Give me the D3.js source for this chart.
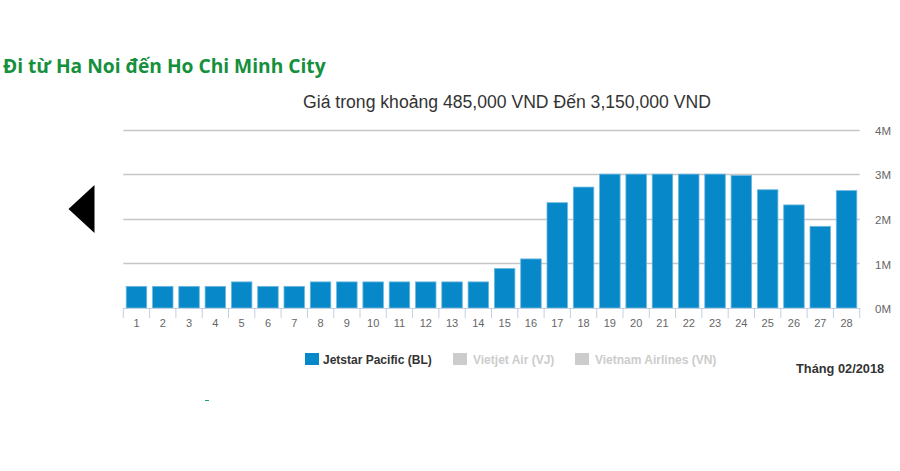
<!DOCTYPE html>
<html><head><meta charset="utf-8">
<script src="https://cdn.jsdelivr.net/npm/d3@7"></script>
<style>body{margin:0;background:#fff;} svg{display:block;font-family:"Liberation Sans",Arial,sans-serif;}</style>
</head><body>
<svg id="c" width="900" height="471"></svg>
<script>
const days = ["1","2","3","4","5","6","7","8","9","10","11","12","13","14","15","16","17","18","19","20","21","22","23","24","25","26","27","28"];
const prices = [485000,485000,485000,485000,585000,485000,485000,585000,585000,585000,585000,585000,585000,585000,885000,1100000,2360000,2710000,3000000,3000000,3000000,3000000,3000000,2970000,2650000,2310000,1830000,2630000];
const yTicks = [0,1000000,2000000,3000000,4000000];
const yTickLabels = ["0M","1M","2M","3M","4M"];
const legendItems = ["Jetstar Pacific (BL)","Vietjet Air (VJ)","Vietnam Airlines (VN)"];
const legendActive = [true,false,false];

const svg = d3.select("#c");
const L = 123.3, R = 859.7, T = 129.5, B = 308;
const x = d3.scaleBand().domain(days).range([L,R]).paddingInner(0.22).paddingOuter(0.11);
const xb = d3.scaleBand().domain(days).range([L,R]);
const y = d3.scaleLinear().domain([0,4000000]).range([B,T]);

// title
svg.append("text").attr("x",3).attr("y",73).attr("fill","#15903c")
  .attr("font-family","'Open Sans',sans-serif").attr("font-weight","bold").attr("font-size",19.2)
  .text("Đi từ Ha Noi đến Ho Chi Minh City");
svg.append("text").attr("x",507).attr("y",108).attr("text-anchor","middle").attr("fill","#333")
  .attr("font-size",17.6).text("Giá trong khoảng 485,000 VND Đến 3,150,000 VND");

// gridlines
svg.append("g").selectAll("line").data(yTicks.slice(1)).join("line")
  .attr("x1",L).attr("x2",R).attr("y1",d=>Math.round(y(d))+0.5).attr("y2",d=>Math.round(y(d))+0.5)
  .attr("stroke","#c6c6c6").attr("stroke-width",1.3);

// y axis labels (right)
const ya = d3.axisRight(y).tickValues(yTicks).tickFormat((d,i)=>yTickLabels[i]).tickSize(0).tickPadding(0);
const yg = svg.append("g").attr("transform",`translate(875,1)`).call(ya);
yg.select(".domain").remove();
yg.selectAll("text").attr("fill","#666").attr("font-size",11.5).attr("font-family","'Liberation Sans',Arial,sans-serif");

// bars
svg.append("g").selectAll("rect").data(prices).join("rect")
  .attr("x",(d,i)=>x(days[i])).attr("width",x.bandwidth())
  .attr("y",d=>y(d)).attr("height",d=>B-y(d))
  .attr("fill","#0789c9").attr("stroke","#6fb8e0").attr("stroke-width",0.8);

// x axis
const xa = d3.axisBottom(xb).tickSize(0).tickPadding(11);
const xg = svg.append("g").attr("transform",`translate(0,${B})`).call(xa);
xg.select(".domain").attr("stroke","#c0d0e0").attr("stroke-width",1.2);
xg.selectAll("text").attr("fill","#666").attr("font-size",11).attr("font-family","'Liberation Sans',Arial,sans-serif");
svg.append("g").selectAll("line").data(days.concat(["end"])).join("line")
  .attr("x1",(d,i)=>L+i*xb.bandwidth()).attr("x2",(d,i)=>L+i*xb.bandwidth())
  .attr("y1",B).attr("y2",B+10).attr("stroke","#c0d0e0").attr("stroke-width",1);

// legend
const lx = [305,453,575];
const lg = svg.append("g").selectAll("g").data(legendItems).join("g")
  .attr("transform",(d,i)=>`translate(${lx[i]},353)`);
lg.append("rect").attr("width",14).attr("height",12).attr("fill",(d,i)=>legendActive[i]?"#0789c9":"#cccccc");
lg.append("text").attr("x",(d,i)=>i==0?18:20).attr("y",11).attr("font-size",12).attr("font-weight","bold")
  .attr("fill",(d,i)=>legendActive[i]?"#333":"#cccccc").text(d=>d);

svg.append("text").attr("x",796).attr("y",373).attr("font-size",12.8).attr("font-weight","bold").attr("fill","#333").text("Tháng 02/2018");

// nav arrow
svg.append("path").attr("d","M68.5,209 L94.5,185 L94.5,233 Z").attr("fill","#000");
// tiny dash
svg.append("line").attr("x1",205).attr("x2",209).attr("y1",400.5).attr("y2",400.5).attr("stroke","#1aa070").attr("stroke-width",1);
</script>
</body></html>
